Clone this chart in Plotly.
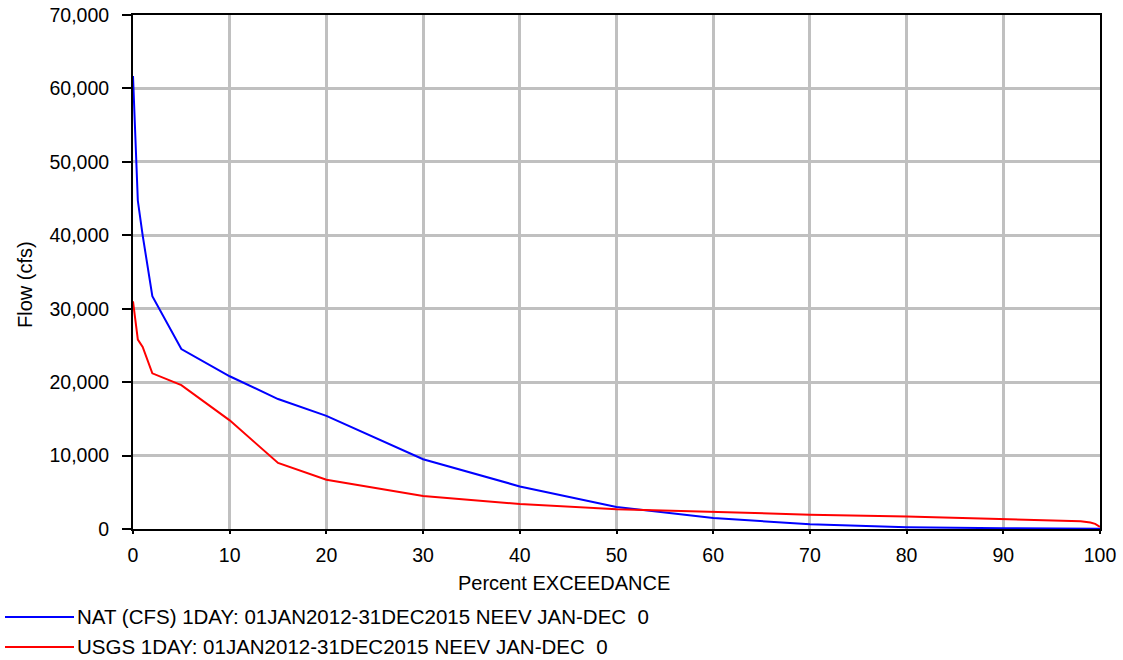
import plotly.graph_objects as go

# ---- data ----
nat_x = [0, 0.5, 1, 2, 5, 10, 15, 20, 30, 40, 50, 60, 70, 80, 90, 100]
nat_y = [61700, 44700, 40000, 31700, 24500, 20800, 17700, 15400, 9500, 5800, 3000, 1500, 650, 250, 100, 50]

usgs_x = [0, 0.5, 1, 2, 5, 10, 15, 20, 30, 40, 50, 60, 70, 80, 90, 96, 98, 99, 99.5, 100]
usgs_y = [31000, 25800, 24800, 21200, 19600, 14800, 9000, 6700, 4500, 3400, 2700, 2300, 1950, 1700, 1370, 1200, 1050, 880, 700, 300]

nat_name = "NAT (CFS) 1DAY: 01JAN2012-31DEC2015 NEEV JAN-DEC\u00a0\u00a00"
usgs_name = "USGS 1DAY: 01JAN2012-31DEC2015 NEEV JAN-DEC\u00a0\u00a00"

x_ticks = [0, 10, 20, 30, 40, 50, 60, 70, 80, 90, 100]
y_ticks = [0, 10000, 20000, 30000, 40000, 50000, 60000, 70000]

FONT = "Liberation Sans, Arial, sans-serif"
FS = 19.5

W, H = 1123, 660
L, R, T, B = 133, 1100, 15, 529  # plot area in pixels


def px(xp):
    return (xp - L) / (R - L)


def py(yp):
    return (B - yp) / (B - T)


fig = go.Figure()
fig.add_trace(go.Scatter(x=nat_x, y=nat_y, mode="lines", name=nat_name,
                         line=dict(color="#0000ff", width=2)))
fig.add_trace(go.Scatter(x=usgs_x, y=usgs_y, mode="lines", name=usgs_name,
                         line=dict(color="#ff0000", width=2)))

fig.update_layout(
    width=W, height=H,
    margin=dict(l=L, r=W - R, t=T, b=H - B, pad=0, autoexpand=False),
    paper_bgcolor="white", plot_bgcolor="white",
    showlegend=False,
    font=dict(family=FONT, size=FS, color="black"),
    xaxis=dict(range=[0, 100], tickvals=x_ticks, ticktext=[str(v) for v in x_ticks],
               showgrid=True, gridcolor="#c0c0c0", gridwidth=2.5,
               showline=True, linecolor="black", linewidth=2, mirror=True,
               ticks="outside", ticklen=3, tickwidth=2, tickcolor="black",
               zeroline=False, ticklabelstandoff=5, automargin=False,
               tickfont=dict(family=FONT, size=FS)),
    yaxis=dict(range=[0, 70000], tickvals=y_ticks,
               ticktext=[f"{v:,}" for v in y_ticks],
               showgrid=True, gridcolor="#c0c0c0", gridwidth=2.5,
               showline=True, linecolor="black", linewidth=2, mirror=True,
               ticks="outside", ticklen=9, tickwidth=2, tickcolor="black",
               zeroline=False, ticklabelstandoff=9, automargin=False,
               tickfont=dict(family=FONT, size=FS)),
)

# axis titles as annotations (positioned like the original)
fig.add_annotation(text="Percent EXCEEDANCE", xref="paper", yref="paper",
                   x=px(564), y=py(583), showarrow=False,
                   xanchor="center", yanchor="middle",
                   font=dict(family=FONT, size=20))
fig.add_annotation(text="Flow (cfs)", xref="paper", yref="paper",
                   x=px(25), y=py(285), showarrow=False, textangle=-90,
                   xanchor="center", yanchor="middle",
                   font=dict(family=FONT, size=20))

# custom legend below the chart
for name, color, yp in [(nat_name, "#0000ff", 617), (usgs_name, "#ff0000", 647)]:
    fig.add_shape(type="line", xref="paper", yref="paper",
                  x0=px(5), x1=px(74), y0=py(yp), y1=py(yp),
                  line=dict(color=color, width=2))
    fig.add_annotation(text=name, xref="paper", yref="paper",
                       x=px(75), y=py(yp - 1), showarrow=False,
                       xanchor="left", yanchor="middle",
                       font=dict(family=FONT, size=20.5))

fig.write_html("out.html", config={"displayModeBar": False},
               post_script="document.body.style.margin='0';document.body.style.padding='0';")
